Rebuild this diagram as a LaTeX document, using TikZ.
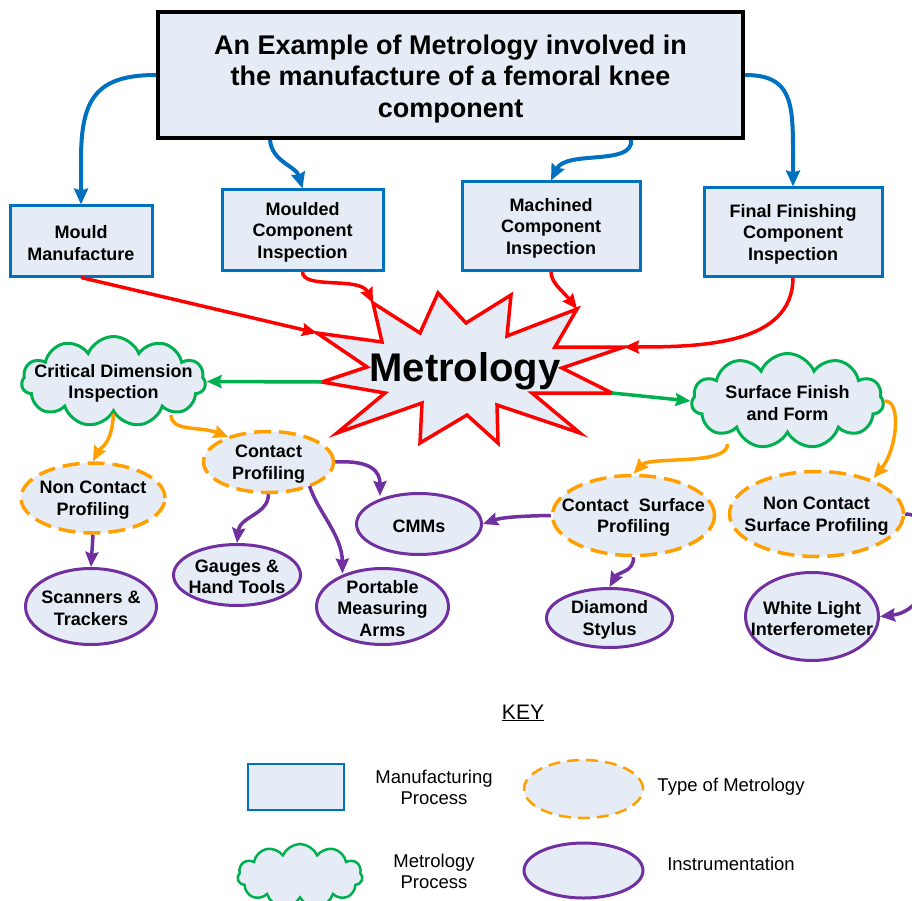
\documentclass[tikz,border=0pt]{standalone}
\usepackage{fontspec}
\setmainfont{Liberation Sans}
\usetikzlibrary{shapes.geometric,shapes.symbols,arrows.meta,calc}
\definecolor{fillc}{RGB}{230,236,246}
\definecolor{mblue}{RGB}{0,112,192}
\definecolor{mred}{RGB}{255,0,0}
\definecolor{mgreen}{RGB}{0,176,80}
\definecolor{morange}{RGB}{255,160,0}
\definecolor{mpurple}{RGB}{112,48,160}
\tikzset{
  tx/.style={font=\fontsize{18}{21.5}\selectfont\bfseries, align=center, inner sep=0pt, yshift=-2pt},
  rg/.style={font=\fontsize{18.5}{21}\selectfont, align=center, inner sep=0pt},
  titlebox/.style={rectangle, draw=black, line width=4pt, fill=fillc, inner sep=0pt},
  titletext/.style={font=\fontsize{27}{31.5}\selectfont\bfseries, align=center, inner sep=0pt, yshift=-4pt},
  procbox/.style={rectangle, draw=mblue, line width=3pt, fill=fillc, inner sep=0pt},
  cloudn/.style={cloud, cloud puffs=11, cloud puff arc=135, cloud ignores aspect,
    draw=mgreen, line width=3pt, fill=fillc, inner sep=0pt},
  typen/.style={ellipse, draw=morange, line width=3.5pt, dash pattern=on 17pt off 8pt,
    fill=fillc, inner sep=0pt},
  instn/.style={ellipse, draw=mpurple, line width=3pt, fill=fillc, inner sep=0pt},
  ablue/.style={draw=mblue, line width=4pt, -{Stealth[length=16pt,width=14pt,inset=2pt]}},
  ared/.style={draw=mred, line width=3.5pt, -{Stealth[length=15pt,width=13pt,inset=2pt]}},
  agreen/.style={draw=mgreen, line width=3.5pt, -{Stealth[length=15pt,width=13pt,inset=2pt]}},
  aorange/.style={draw=morange, line width=3.5pt, -{Stealth[length=15pt,width=13pt,inset=2pt]}},
  apurple/.style={draw=mpurple, line width=3.5pt, -{Stealth[length=15pt,width=13pt,inset=2pt]}},
}
\begin{document}
\begin{tikzpicture}[x=1pt, y=-1pt]
\clip (0,0) rectangle (912,901);
\fill[white] (0,0) rectangle (912,901);

% title and manufacturing process boxes
\node[titlebox, minimum width=585pt, minimum height=126pt,
  label={[titletext]center:An Example of Metrology involved in\\the manufacture of a femoral knee\\component}] (title) at (450.5,75) {};
\node[procbox, minimum width=142pt, minimum height=70pt,
  label={[tx]center:Mould\\Manufacture}] (mould) at (81,241) {};
\node[procbox, minimum width=161pt, minimum height=80pt,
  label={[tx]center:Moulded\\Component\\Inspection}] (moulded) at (302.5,230) {};
\node[procbox, minimum width=178pt, minimum height=88pt,
  label={[tx]center:Machined\\Component\\Inspection}] (machined) at (551,226) {};
\node[procbox, minimum width=178pt, minimum height=88pt,
  label={[tx]center:Final Finishing\\Component\\Inspection}] (final) at (793,232) {};

% starburst
\coordinate (sMould) at (317,333);
\coordinate (sMoulded) at (373,303);
\coordinate (sMach) at (577,309);
\coordinate (sFinal) at (624,347);
\coordinate (sLeft) at (322,382);
\coordinate (sRight) at (612,393);
\draw[draw=mred, line width=3.5pt, fill=fillc, line join=miter]
  (438,293) -- (466,323) -- (511,295) -- (507,336) -- (sMach) -- (555,347) -- (sFinal)
  -- (562,368) -- (sRight) -- (532,393) -- (580,433) -- (497,405) -- (498,443) -- (467,415)
  -- (420,443) -- (422,403) -- (337,433) -- (385,393) -- (sLeft) -- (367,367) -- (sMould)
  -- (382,342) -- (sMoulded) -- (420,333) -- cycle;
\node[font=\fontsize{40}{44}\selectfont\bfseries, inner sep=0pt, anchor=base] (metro) at (465,381) {Metrology};

% metrology processes
\node[cloudn, minimum width=184pt, minimum height=90pt,
  label={[tx]center:Critical Dimension\\Inspection}] (cdi) at (113.5,381.5) {};
\node[cloudn, minimum width=192pt, minimum height=95pt,
  label={[tx]center:Surface Finish\\and Form}] (sff) at (787.5,401) {};

% types of metrology
\node[typen, minimum width=144pt, minimum height=70pt,
  label={[tx]center:Non Contact\\Profiling}] (ncp) at (93,498) {};
\node[typen, minimum width=130pt, minimum height=61pt,
  label={[tx]center:Contact\\Profiling}] (cp) at (268.5,462) {};
\node[typen, minimum width=162pt, minimum height=80pt,
  label={[tx]center:Contact\ \ Surface\\Profiling}] (csp) at (633.5,515.5) {};
\node[typen, minimum width=174pt, minimum height=85pt,
  label={[tx]center:Non Contact\\Surface Profiling}] (ncsp) at (816.5,514) {};

% instrumentation
\node[instn, minimum width=131pt, minimum height=76pt,
  label={[tx]center:Scanners \&\\Trackers}] (scan) at (91,606.5) {};
\node[instn, minimum width=127pt, minimum height=61pt,
  label={[tx]center:Gauges \&\\Hand Tools}] (gauge) at (237,575) {};
\node[instn, minimum width=132pt, minimum height=76pt,
  label={[tx]center:Portable\\Measuring\\Arms}] (arms) at (382.5,606.5) {};
\node[instn, minimum width=125pt, minimum height=61pt,
  label={[tx]center:CMMs}] (cmm) at (419,524) {};
\node[instn, minimum width=126pt, minimum height=59pt,
  label={[tx]center:Diamond\\Stylus}] (diam) at (609.5,618) {};
\node[instn, minimum width=133pt, minimum height=88pt,
  label={[tx]center:White Light\\Interferometer}] (wli) at (812,616.5) {};

% blue connectors
\draw[ablue] (title.west) .. controls (95,75) and (81,100) .. (81,160) -- (mould.north);
\draw[ablue] ($(title.south west)+(114,0)$) .. controls (272,162) and (296,166) .. (moulded.north);
\draw[ablue] ($(title.south west)+(475,0)$) .. controls (634,166) and (566,150) .. (machined.north);
\draw[ablue] (title.east) .. controls (790,75) and (793,100) .. (793,150) -- (final.north);

% red connectors
\draw[ared] (mould.south) -- (sMould);
\draw[ared] (moulded.south) .. controls (302,290) and (360,276) .. (sMoulded);
\draw[ared] (machined.south) .. controls (551,283) and (562,290) .. (sMach);
\draw[ared] (final.south) .. controls (793,345) and (700,347) .. (sFinal);

% green connectors
\draw[agreen] (sLeft) -- (cdi.east);
\draw[agreen] (sRight) -- (sff.west);

% orange connectors
\draw[aorange] (cdi.south) .. controls (112,445) and (100,448) .. (ncp.north);
\draw[aorange] ($(cdi)+(57.5,33.5)$) .. controls (171,432) and (200,426) .. ($(cp)+(-40,-25)$);
\draw[aorange] ($(sff)+(-60,43)$) .. controls (728,466) and (650,456) .. (csp.north);
\draw[aorange] (sff.east) .. controls (902,400) and (897,450) .. ($(ncsp)+(57,-36)$);

% purple connectors
\draw[apurple] (ncp.south) -- (scan.north);
\draw[apurple] (cp.south) .. controls (268,515) and (240,516) .. (gauge.north);
\draw[apurple] ($(cp)+(41,24)$) .. controls (318,512) and (342,535) .. ($(arms)+(-40,-33)$);
\draw[apurple] (cp.east) .. controls (372,460) and (380,472) .. ($(cmm)+(-39,-28)$);
\draw[apurple] (csp.west) .. controls (515,516) and (500,518) .. (cmm.east);
\draw[apurple] (csp.south) .. controls (634,572) and (618,572) .. (diam.north);
\draw[apurple] (ncsp.east) .. controls (945,514) and (940,610) .. (wli.east);

% key
\node[font=\fontsize{21}{24}\selectfont, inner sep=0pt] (keyt) at (523,713) {\underline{KEY}};
\node[rectangle, draw=mblue, line width=2.5pt, fill=fillc, minimum width=96pt, minimum height=46pt] (kbox) at (296,787) {};
\node[rg] (kboxt) at (434,787) {Manufacturing\\Process};
\node[typen, line width=2.5pt, dash pattern=on 12pt off 7pt, minimum width=119pt, minimum height=58pt] (kell) at (583.5,789) {};
\node[rg] (kellt) at (731,787) {Type of Metrology};
\node[cloudn, line width=2.5pt, minimum width=125pt, minimum height=64pt] (kcloud) at (300,876) {};
\node[rg] (kcloudt) at (434,871) {Metrology\\Process};
\node[instn, minimum width=119pt, minimum height=55pt] (kinst) at (583.5,870.5) {};
\node[rg] (kinstt) at (731,864) {Instrumentation};
\end{tikzpicture}
\end{document}
